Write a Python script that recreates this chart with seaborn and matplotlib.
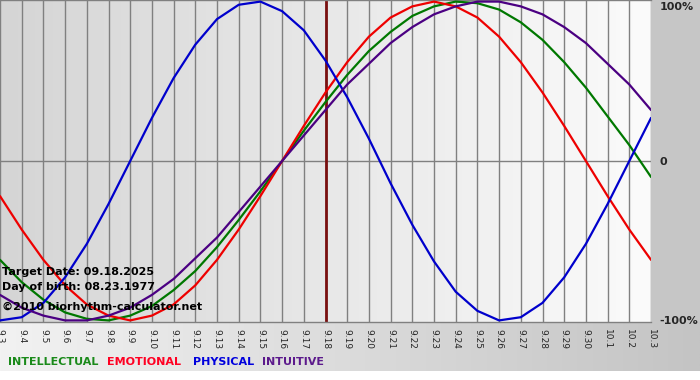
import numpy as np
import pandas as pd
import seaborn as sns
import matplotlib.pyplot as plt
from matplotlib.colors import LinearSegmentedColormap

sns.set_style("white")
plt.rcParams['font.family'] = ['DejaVu Sans']

days = ['9.3', '9.4', '9.5', '9.6', '9.7', '9.8', '9.9', '9.10', '9.11', '9.12',
        '9.13', '9.14', '9.15', '9.16', '9.17', '9.18', '9.19', '9.20', '9.21', '9.22',
        '9.23', '9.24', '9.25', '9.26', '9.27', '9.28', '9.29', '9.30', '10.1', '10.2', '10.3']

# values in percent for each day
physical = [-100, -98, -89, -73, -52, -27, 0, 27, 52, 73, 89, 98, 100, 94, 82, 63,
            40, 14, -14, -40, -63, -82, -94, -100, -98, -89, -73, -52, -27, 0, 27]
emotional = [-22, -43, -62, -78, -90, -97, -100, -97, -90, -78, -62, -43, -22, 0, 22, 43,
             62, 78, 90, 97, 100, 97, 90, 78, 62, 43, 22, 0, -22, -43, -62]
intellectual = [-62, -76, -87, -95, -99, -100, -97, -91, -81, -69, -54, -37, -19, 0, 19, 37,
                54, 69, 81, 91, 97, 100, 99, 95, 87, 76, 62, 46, 28, 10, -10]
intuitive = [-84, -92, -97, -100, -100, -97, -92, -84, -74, -61, -48, -32, -16, 0, 16, 32,
             48, 61, 74, 84, 92, 97, 100, 100, 97, 92, 84, 74, 61, 48, 32]

target_day = '9.18'
info_lines = ['Target Date: 09.18.2025', 'Day of birth: 08.23.1977', '\u00a92010 biorhythm-calculator.net']
legend_names = ['INTELLECTUAL', 'EMOTIONAL', 'PHYSICAL', 'INTUITIVE']

line_colors = {'intellectual': '#007800', 'emotional': '#ee0000',
               'physical': '#0000cc', 'intuitive': '#4b0082'}
text_colors = ['#1a8a1a', '#ff0022', '#0000dd', '#5c1a8c']

df = pd.DataFrame({
    'idx': list(range(len(days))) * 4,
    'value': intellectual + emotional + physical + intuitive,
    'rhythm': ['intellectual'] * len(days) + ['emotional'] * len(days)
              + ['physical'] * len(days) + ['intuitive'] * len(days),
})

W, H = 700, 380
fig = plt.figure(figsize=(7, 3.8), dpi=100)
fig.patch.set_facecolor('white')

# background frame (right strip and bottom band)
bg = fig.add_axes([0, 0, 1, 1])
bg.set_xlim(0, W)
bg.set_ylim(H, 0)
bg.axis('off')
band_cmap = LinearSegmentedColormap.from_list('band', ['#f2f2f2', '#c4c4c4'])
bg.imshow(np.linspace(0, 1, 256)[None, :], cmap=band_cmap, aspect='auto',
          extent=(0, W, 371, 318), zorder=0)
bg.add_patch(plt.Rectangle((651, 0), W - 651, 322, color='#c6c6c6', zorder=1, lw=0))

plot_w, plot_h = 651, 322
ax = fig.add_axes([0, 1 - plot_h / H, plot_w / W, plot_h / H])
area_cmap = LinearSegmentedColormap.from_list('area', ['#d5d5d5', '#fbfbfb'])
ax.imshow(np.linspace(0, 1, 256)[None, :], cmap=area_cmap, aspect='auto',
          extent=(0, len(days) - 1, -101, 101), zorder=0)

for i in range(len(days)):
    ax.axvline(i, color='#808080', lw=1.0, zorder=1)
ax.axhline(0, color='#808080', lw=1.0, zorder=1)
ax.axvline(days.index(target_day), color='#7a1010', lw=2.0, zorder=2)

sns.lineplot(data=df, x='idx', y='value', hue='rhythm', palette=line_colors,
             hue_order=['intellectual', 'emotional', 'physical', 'intuitive'],
             linewidth=1.6, legend=False, ax=ax, zorder=3)

ax.set_xlim(0, len(days) - 1)
ax.set_ylim(-101, 101)
ax.set_xlabel('')
ax.set_ylabel('')

for side in ['left', 'right']:
    ax.spines[side].set_visible(False)
for side in ['top', 'bottom']:
    ax.spines[side].set_color('#808080')
    ax.spines[side].set_linewidth(1.0)

ax.set_xticks(range(len(days)))
ax.set_xticklabels(days, rotation=-90, fontsize=6.5, va='top', ha='center')
ax.tick_params(axis='x', length=3, color='#808080', pad=2)

ax.yaxis.tick_right()
ax.set_yticks([-100, 0, 100])
ax.set_yticklabels(['-100%', '0', '100%'], fontsize=8, fontweight='bold')
ax.tick_params(axis='y', length=0, pad=6)
ax.get_yticklabels()[-1].set_va('top')

for k, line in enumerate(info_lines):
    ax.text(2, [272, 287, 307][k], line, transform=bg.transData, fontsize=8,
            fontweight='bold', color='black', va='center', ha='left', zorder=5)

for name, color, x0 in zip(legend_names, text_colors, [8, 107, 193, 262]):
    bg.text(x0, 362, name, fontsize=8, fontweight='bold', color=color,
            va='center', ha='left', zorder=5)

fig.savefig('out.png', dpi=100)
